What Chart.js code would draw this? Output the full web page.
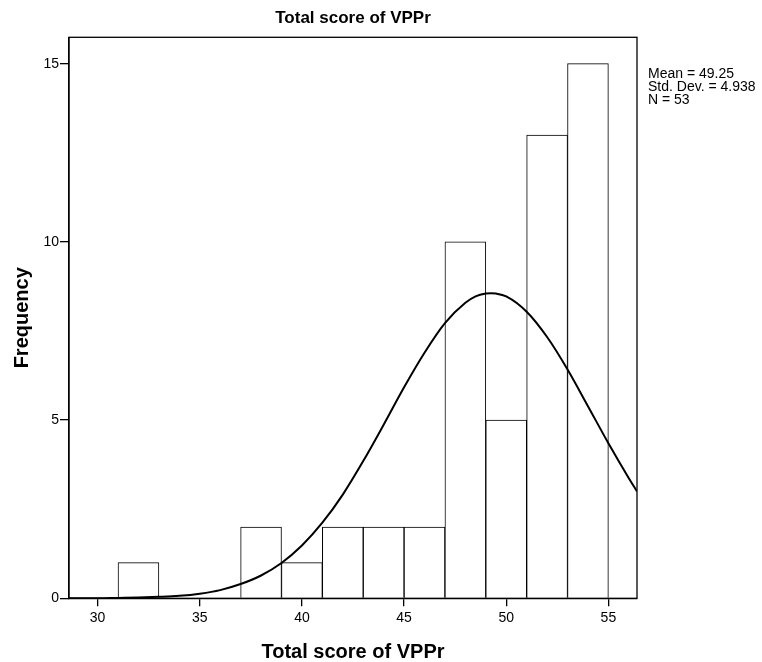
<!DOCTYPE html>
<html>
<head>
<meta charset="utf-8">
<script src="https://cdn.jsdelivr.net/npm/chart.js@4.4.1/dist/chart.umd.min.js"></script>
<style>
  html, body { margin: 0; padding: 0; background: #fff; }
  #wrap { position: relative; width: 762px; height: 662px; }
</style>
</head>
<body>
<div id="wrap"><canvas id="c"></canvas></div>
<script>
// ---- data ----
const chartTitle = "Total score of VPPr";
const xAxisTitle = "Total score of VPPr";
const yAxisTitle = "Frequency";
const binCenters = [32, 38, 40, 42, 44, 46, 48, 50, 52, 54];
const frequencies = [1, 2, 1, 2, 2, 2, 10, 5, 13, 15];
const curveX = [28.6, 30, 31, 32, 33, 34, 35, 36, 37, 38, 39, 40, 41, 42, 43, 44, 45, 46, 47, 48, 48.5, 49, 49.25, 49.5, 50, 51, 52, 53, 54, 55, 56, 56.4];
const curveY = [0.00, 0.00, 0.01, 0.02, 0.04, 0.07, 0.13, 0.23, 0.40, 0.64, 0.99, 1.48, 2.12, 2.91, 3.85, 4.87, 5.92, 6.89, 7.72, 8.29, 8.47, 8.55, 8.56, 8.55, 8.47, 8.04, 7.33, 6.42, 5.39, 4.35, 3.37, 3.00];
const xTicks = [30, 35, 40, 45, 50, 55];
const yTicks = [0, 5, 10, 15];
const statsLines = ["Mean = 49.25", "Std. Dev. = 4.938", "N = 53"];
const xRange = [28.6, 56.4];
const yRange = [0, 15.74];

const FONT = "'Liberation Sans', Arial, sans-serif";

const framePlugin = {
  id: 'frame',
  afterDraw(chart) {
    const {ctx, chartArea: a} = chart;
    ctx.save();
    ctx.strokeStyle = '#000';
    ctx.lineWidth = 1.3;
    ctx.strokeRect(a.left, a.top, a.right - a.left, a.bottom - a.top);
    ctx.fillStyle = '#000';
    ctx.font = "bold 17px " + FONT;
    ctx.textAlign = 'center';
    ctx.textBaseline = 'middle';
    ctx.fillText(chartTitle, (a.left + a.right) / 2, 18.5);
    ctx.font = "14px " + FONT;
    ctx.textAlign = 'left';
    ctx.textBaseline = 'alphabetic';
    statsLines.forEach((t, i) => ctx.fillText(t, a.right + 11, 77.7 + i * 13.3));
    ctx.restore();
  }
};

new Chart(document.getElementById('c'), {
  type: 'bar',
  data: {
    datasets: [
      {
        type: 'line',
        order: 0,
        data: curveX.map((x, i) => ({x: x, y: curveY[i]})),
        borderColor: '#000',
        borderWidth: 2,
        pointRadius: 0,
        fill: false,
        cubicInterpolationMode: 'monotone'
      },
      {
        type: 'bar',
        order: 1,
        data: binCenters.map((x, i) => ({x: x, y: frequencies[i]})),
        backgroundColor: '#fff',
        borderColor: '#000',
        borderWidth: 1,
        barPercentage: 1,
        categoryPercentage: 1
      }
    ]
  },
  options: {
    responsive: true,
    maintainAspectRatio: false,
    animation: false,
    events: [],
    layout: { padding: { top: 37.3, right: 125, left: 0, bottom: 0 } },
    plugins: { legend: { display: false }, tooltip: { enabled: false }, title: { display: false } },
    scales: {
      x: {
        type: 'linear',
        offset: false,
        min: xRange[0],
        max: xRange[1],
        afterBuildTicks: s => { s.ticks = xTicks.map(v => ({value: v})); },
        afterFit: s => { s.height = 63.7; },
        grid: { display: true, drawOnChartArea: false, drawTicks: true, tickLength: 8, color: '#000', lineWidth: 1.3, offset: false },
        border: { display: true, color: '#000', width: 1.3 },
        ticks: { color: '#000', font: { family: FONT, size: 14 }, padding: 3, maxRotation: 0, autoSkip: false },
        title: { display: true, text: xAxisTitle, color: '#000', font: { family: FONT, size: 20, weight: 'bold', lineHeight: 1 }, padding: { top: 0, bottom: 0 } }
      },
      y: {
        type: 'linear',
        min: yRange[0],
        max: yRange[1],
        afterBuildTicks: s => { s.ticks = yTicks.map(v => ({value: v})); },
        afterFit: s => { s.width = 69; },
        grid: { display: true, drawOnChartArea: false, drawTicks: true, tickLength: 9, color: '#000', lineWidth: 1.3 },
        border: { display: true, color: '#000', width: 1.3 },
        ticks: { color: '#000', font: { family: FONT, size: 14 }, padding: 1 },
        title: { display: true, text: yAxisTitle, color: '#000', font: { family: FONT, size: 20, weight: 'bold', lineHeight: 1 }, padding: { top: 12, bottom: 0 } }
      }
    }
  },
  plugins: [framePlugin]
});
</script>
</body>
</html>
